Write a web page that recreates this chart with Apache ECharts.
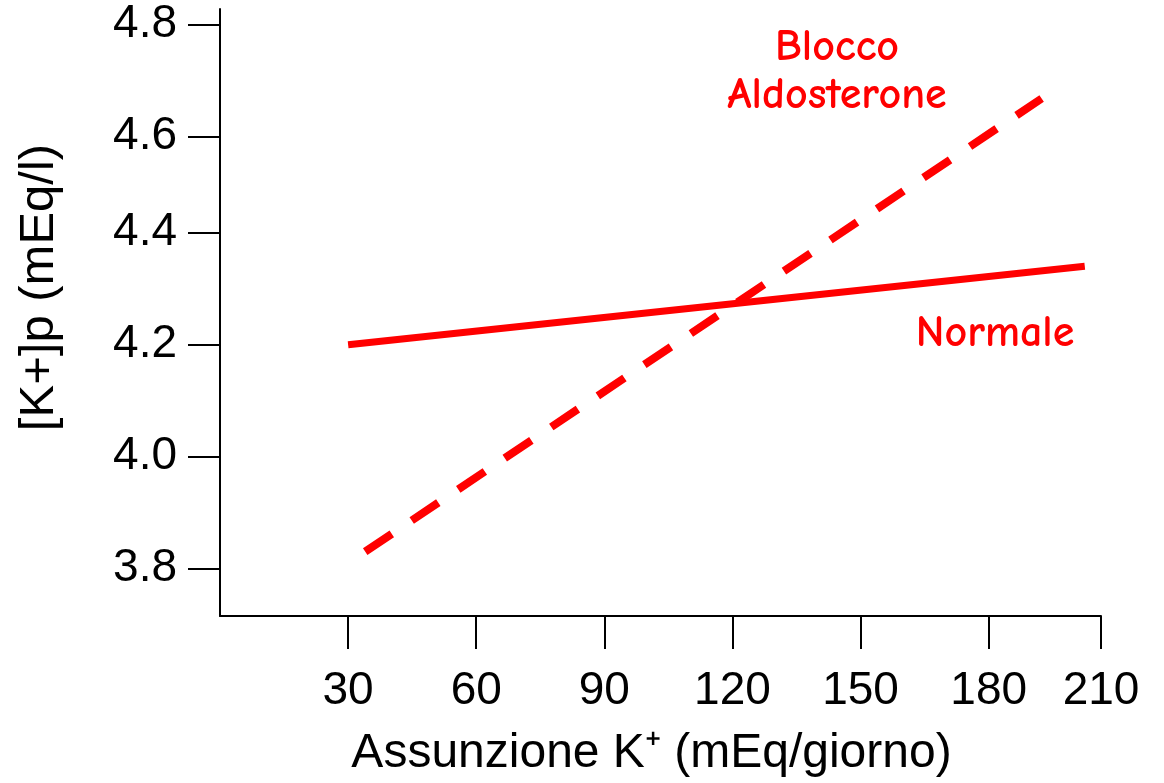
<!DOCTYPE html>
<html>
<head>
<meta charset="utf-8">
<script src="https://cdn.jsdelivr.net/npm/echarts@6/dist/echarts.min.js"></script>
<style>
  html, body { margin: 0; padding: 0; background: #ffffff; }
  #chart { width: 1164px; height: 783px; }
</style>
</head>
<body>
<div id="chart"></div>
<script>
// ---- data ----
// Normale (solid) and Blocco Aldosterone (dashed): [K+ intake, plasma K+]
const normaleX = [30, 202.5];
const normaleY = [4.2, 4.34];
const bloccoX = [34, 192.4];
const bloccoY = [3.83, 4.64];

// tick labels (the reference draws "210", "4.6" and "4.8" slightly off the regular grid;
// these are the axis values where those ticks actually sit)
const xTickValues = [30, 60, 90, 120, 150, 180, 206.3];
const xTickLabels = ['30', '60', '90', '120', '150', '180', '210'];
const yTickValues = [3.8, 4.0, 4.2, 4.4, 4.5725, 4.7725];
const yTickLabels = ['3.8', '4.0', '4.2', '4.4', '4.6', '4.8'];

const xName = 'Assunzione K\u207A (mEq/giorno)';
const yName = '[K+]p (mEq/l)';
const labelBlocco = ['Blocco', 'Aldosterone'];
const labelNormale = 'Normale';

function pairs(xs, ys) { return xs.map((x, i) => [x, ys[i]]); }

const chart = echarts.init(document.getElementById('chart'), null, { renderer: 'canvas' });
const axisFont = "'Liberation Sans', Arial, sans-serif";
const noteFont = "'Comic Sans MS', 'Comic Neue', 'DejaVu Sans', sans-serif";

function note(text, x, y) {
  return { type: 'text', x: x, y: y, silent: true,
    style: { text: text, textAlign: 'center', textVerticalAlign: 'middle', fill: '#ff0000', font: 'bold 44px ' + noteFont } };
}

chart.setOption({
  backgroundColor: '#ffffff',
  animation: false,
  grid: { left: 220, right: 63, top: 9, bottom: 166, containLabel: false },
  xAxis: {
    type: 'value',
    min: 0,
    max: 206.3,
    name: xName,
    nameLocation: 'middle',
    nameGap: 114,
    nameTextStyle: { fontFamily: axisFont, fontSize: 48, color: '#000', padding: [0, 18, 0, 0] },
    axisLine: { show: true, onZero: false, lineStyle: { color: '#000', width: 2 } },
    axisTick: { show: true, inside: false, length: 33, customValues: xTickValues, lineStyle: { color: '#000', width: 2 } },
    axisLabel: {
      show: true, margin: 52, customValues: xTickValues,
      fontFamily: axisFont, fontSize: 46, color: '#000',
      formatter: v => { const i = xTickValues.indexOf(v); return i >= 0 ? xTickLabels[i] : ''; }
    },
    splitLine: { show: false }
  },
  yAxis: {
    type: 'value',
    min: 3.715,
    max: 4.8,
    name: yName,
    nameLocation: 'middle',
    nameGap: 156,
    nameRotate: 90,
    nameTextStyle: { fontFamily: axisFont, fontSize: 49, color: '#000', padding: [0, 0, 0, 50] },
    axisLine: { show: true, onZero: false, lineStyle: { color: '#000', width: 2 } },
    axisTick: { show: true, inside: false, length: 32, customValues: yTickValues, lineStyle: { color: '#000', width: 2 } },
    axisLabel: {
      show: true, margin: 43, customValues: yTickValues,
      fontFamily: axisFont, fontSize: 46, color: '#000',
      formatter: v => { const i = yTickValues.indexOf(v); return i >= 0 ? yTickLabels[i] : ''; }
    },
    splitLine: { show: false }
  },
  series: [
    {
      name: 'Normale',
      type: 'line',
      data: pairs(normaleX, normaleY),
      symbol: 'none',
      lineStyle: { color: '#ff0000', width: 7, type: 'solid', cap: 'butt' },
      silent: true
    },
    {
      name: 'Blocco Aldosterone',
      type: 'line',
      data: pairs(bloccoX, bloccoY),
      symbol: 'none',
      lineStyle: { color: '#ff0000', width: 8, type: [32, 24], cap: 'butt' },
      silent: true
    }
  ],
  graphic: [
    note(labelBlocco[0], 837, 48),
    note(labelBlocco[1], 837, 96),
    note(labelNormale, 995, 334)
  ]
});
</script>
</body>
</html>
